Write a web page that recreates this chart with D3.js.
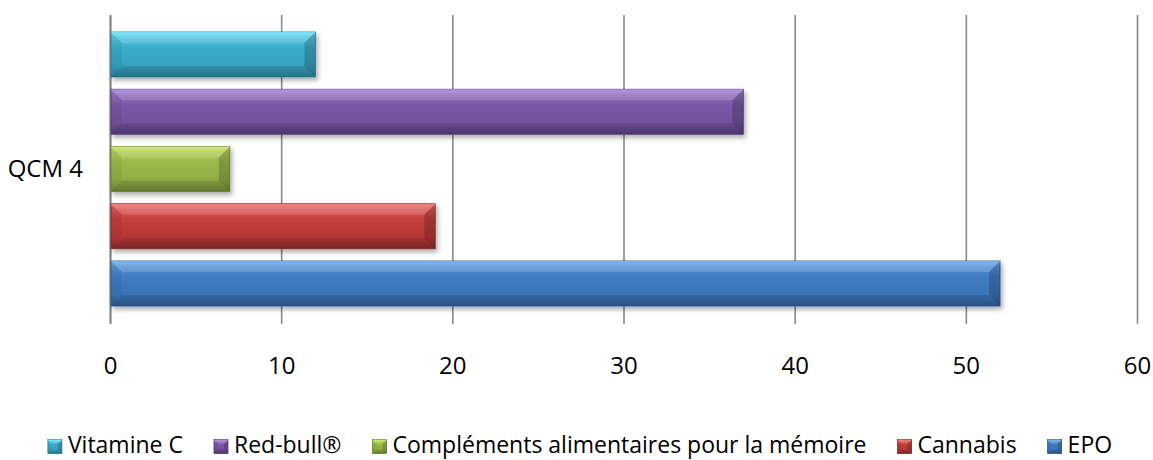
<!DOCTYPE html>
<html><head><meta charset="utf-8">
<script src="https://cdn.jsdelivr.net/npm/d3@7"></script>
<style>
body{margin:0;background:#fff}
svg{display:block}
text{font-family:"Open Sans",sans-serif;fill:#000}
</style>
</head><body>
<svg id="chart" width="1153" height="460"></svg>
<script>
// ---- data ----
const categories = ["QCM 4"];
const series = ["Vitamine C", "Red-bull®", "Compléments alimentaires pour la mémoire", "Cannabis", "EPO"];
const values = [12, 37, 7, 19, 52];
const xTicks = [0, 10, 20, 30, 40, 50, 60];

// ---- styles ----
const baseColors  = ["#3aaccb", "#7a58a5", "#9aba4a", "#c43d3c", "#3f7cc3"];
const lightColors = ["#74e4f7", "#ad8ade", "#c8e56e", "#f07a78", "#74b0ee"];
const darkColors  = ["#2a8099", "#563c7d", "#6c8733", "#8b2a2a", "#2d5a94"];

const svg = d3.select("#chart");
const defs = svg.append("defs");
const fs = 24;
const legendFs = 23;

const x = d3.scaleLinear().domain([0, 60]).range([110, 1137]);
const yBar = d3.scaleBand().domain(series).range([15, 323]).paddingInner(0.214).paddingOuter(0.297);
const yCat = d3.scaleBand().domain(categories).range([15, 323]);

// drop shadow
const f = defs.append("filter").attr("id", "sh").attr("x", "-5%").attr("y", "-30%").attr("width", "115%").attr("height", "180%");
f.append("feDropShadow").attr("dx", 2).attr("dy", 3).attr("stdDeviation", 2.5).attr("flood-color", "#000").attr("flood-opacity", 0.33);

series.forEach((s, i) => {
  const g = defs.append("linearGradient").attr("id", "g" + i).attr("x1", 0).attr("y1", 0).attr("x2", 0).attr("y2", 1);
  g.append("stop").attr("offset", 0).attr("stop-color", lightColors[i]);
  g.append("stop").attr("offset", 0.12).attr("stop-color", d3.interpolateRgb(lightColors[i], baseColors[i])(0.55));
  g.append("stop").attr("offset", 0.35).attr("stop-color", baseColors[i]);
  g.append("stop").attr("offset", 0.75).attr("stop-color", d3.interpolateRgb(baseColors[i], darkColors[i])(0.25));
  g.append("stop").attr("offset", 1).attr("stop-color", darkColors[i]);
});

// x axis with gridlines
const xAxis = svg.append("g")
  .attr("transform", `translate(0,${yCat.range()[1] + 1})`)
  .call(d3.axisBottom(x).tickValues(xTicks).tickSize(-(yCat.range()[1] - yCat.range()[0] + 1)).tickPadding(33).tickSizeOuter(0));
xAxis.select(".domain").remove();
xAxis.selectAll(".tick line").attr("stroke", "#8a8a8a").attr("stroke-width", 1.6);
xAxis.selectAll(".tick text").attr("font-size", fs).attr("font-family", '"Open Sans",sans-serif').attr("fill", "#000");

// y axis
const yAxis = svg.append("g")
  .attr("transform", `translate(${x(0)},0)`)
  .call(d3.axisLeft(yCat).tickSize(0).tickPadding(27).tickSizeOuter(0));
yAxis.select(".domain").attr("stroke", "#808080").attr("stroke-width", 1.8);
yAxis.selectAll(".tick text").attr("font-size", fs).attr("font-family", '"Open Sans",sans-serif').attr("fill", "#000").attr("dy", "0.35em");

// bevel drawing
function bevel(sel, w, h, i, b) {
  sel.append("rect").attr("width", w).attr("height", h).attr("fill", `url(#g${i})`)
    .attr("stroke", darkColors[i]).attr("stroke-width", 0.8);
  sel.append("polygon").attr("points", `0,0 ${w},0 ${w - b},${b} ${b},${b}`).attr("fill", "#fff").attr("opacity", 0.15);
  sel.append("polygon").attr("points", `0,${h} ${w},${h} ${w - b},${h - b} ${b},${h - b}`).attr("fill", "#000").attr("opacity", 0.1);
  sel.append("polygon").attr("points", `0,0 ${b},${b} ${b},${h - b} 0,${h}`).attr("fill", "#000").attr("opacity", 0.05);
  sel.append("polygon").attr("points", `${w},0 ${w - b},${b} ${w - b},${h - b} ${w},${h}`).attr("fill", "#000").attr("opacity", 0.18);
  sel.append("line").attr("x1", 0.5).attr("x2", w - 0.5).attr("y1", 1).attr("y2", 1).attr("stroke", lightColors[i]).attr("stroke-width", 1.5);
}

const bars = svg.append("g").attr("filter", "url(#sh)");
series.forEach((s, i) => {
  const w = x(values[i]) - x(0);
  const h = yBar.bandwidth();
  const g = bars.append("g").attr("transform", `translate(${x(0) + 1},${yBar(s)})`);
  bevel(g, w - 1, h, i, Math.min(11, w / 2));
});

// legend
const legend = svg.append("g");
let cx = 0;
series.forEach((s, i) => {
  const g = legend.append("g").attr("transform", `translate(${cx},0)`);
  const ig = g.append("g").attr("transform", "translate(0,-13.5)");
  bevel(ig, 14, 14, i, 4);
  const t = g.append("text").attr("x", 20).attr("y", 0).attr("font-size", legendFs).text(s);
  const tw = t.node().getComputedTextLength();
  cx += 20 + tw + 31;
});
const totalW = cx - 31;
legend.attr("transform", `translate(${580 - totalW / 2},453)`);
</script>
</body></html>
